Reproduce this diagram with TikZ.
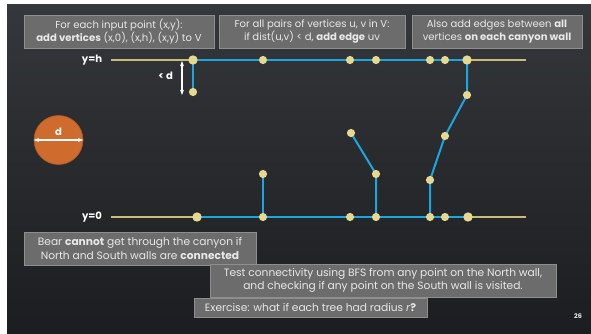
\documentclass[tikz,border=0pt]{standalone}
\usepackage{fontspec}
\setmainfont{Poppins}
\usepackage{tikz}
\usetikzlibrary{arrows.meta,positioning,calc}
\definecolor{bgtop}{HTML}{34373B}
\definecolor{bgbot}{HTML}{1C1D20}
\definecolor{bxfill}{HTML}{6C6C6C}
\definecolor{bxline}{HTML}{8E8E8E}
\definecolor{bxtext}{HTML}{E8E8E8}
\definecolor{wallc}{HTML}{C9BB7A}
\definecolor{edgec}{HTML}{1CA6E0}
\definecolor{vertc}{HTML}{E6D88E}
\definecolor{treec}{HTML}{CF6B2C}
\tikzset{
  txtbox/.style={draw=bxline,fill=bxfill,line width=0.8pt,text=bxtext,align=center,
                 font=\fontsize{8.6}{11.2}\selectfont,inner sep=0pt},
  bigtxt/.style={txtbox,font=\fontsize{9.1}{11.4}\selectfont},
  wall/.style={wallc,line width=1.3pt},
  edg/.style={edgec,line width=1.7pt},
  vtx/.style={circle,fill=vertc,inner sep=0pt,minimum size=7pt},
  bigvtx/.style={vtx,minimum size=8pt},
  wlbl/.style={text=white,font=\fontsize{8.6}{10}\selectfont\bfseries},
  darr/.style={{Stealth[length=1.6mm]}-{Stealth[length=1.6mm]},white,line width=1.3pt},
}

\begin{document}
\begin{tikzpicture}[x=0.03cm,y=-0.03cm]
\useasboundingbox (0,0) rectangle (591,333);
\shade[top color=bgtop,bottom color=bgbot] (7,4) rectangle (591,333);
% instruction boxes
\node[txtbox,minimum width=190*0.03cm,minimum height=33*0.03cm] (stepA) at (119,31.5)
  {For each input point (x,y):\\\textbf{add vertices} (x,0), (x,h), (x,y) to V};
\node[txtbox,minimum width=186*0.03cm,minimum height=33*0.03cm] (stepB) at (312,31.5)
  {For all pairs of vertices u, v in V:\\if dist(u,v) < d, \textbf{add edge} uv};
\node[txtbox,minimum width=170*0.03cm,minimum height=33*0.03cm] (stepC) at (497,31.5)
  {Also add edges between \textbf{all}\\vertices \textbf{on each canyon wall}};
% walls
\node[wlbl] (north) at (92,60) {y=h};
\node[wlbl] (south) at (92,217) {y=0};
\coordinate (nend) at (526,60);
\coordinate (send) at (526,217);
\draw[wall] (north.east)++(5,0) -- (nend);
\draw[wall] (south.east)++(5,0) -- (send);
% vertices
\foreach \n/\x/\y in {t1/193/60,t2/263/60,t3/350/60,t4/376/60,t5/430/60,t6/445/60,t7/467/60,
  b1/197/217,b2/263/217,b3/350/217,b4/376/217,b5/430/217,b6/445/217,b7/468/217,
  p1/193/92,p2/467/95,p3/445/136,p4/430/180,p5/263/174,p6/351/133,p7/376/174}
  \coordinate (\n) at (\x,\y);
% edges
\draw[edg] (t1) -- (t7);
\draw[edg] (b1) -- (b7);
\draw[edg] (t1) -- (p1);
\draw[edg] (t7) -- (p2) -- (p3) -- (p4) -- (b5);
\draw[edg] (b2) -- (p5);
\draw[edg] (p6) -- (p7) -- (b4);
\foreach \n in {t2,t3,t4,t5,t6,b2,b3,b4,b5,b6,p1,p2,p3,p4,p5,p6,p7}
  \node[vtx] at (\n) {};
\foreach \n in {t1,t7,b1,b7}
  \node[bigvtx] at (\n) {};
% gap smaller than d
\coordinate (gtop) at (182,61);
\coordinate (gbot) at (182,95);
\draw[darr] (gtop) -- (gbot);
\node[wlbl,anchor=east] (gap) at (177,76) {< d};
% tree of diameter d
\node[circle,fill=treec,draw=treec!85!black,line width=0.5pt,minimum size=49*0.03cm,inner sep=0pt] (tree) at (58.5,140) {};
\draw[darr] (tree.west) -- (tree.east);
\node[wlbl,above=0pt of tree.center] (dlbl) {d};
% conclusions
\node[bigtxt,minimum width=232*0.03cm,minimum height=33*0.03cm] (bear) at (140,248.5)
  {Bear \textbf{cannot} get through the canyon if\\North and South walls are \textbf{connected}};
\node[bigtxt,minimum width=346*0.03cm,minimum height=33*0.03cm] (bfs) at (383,280.5)
  {Test connectivity using BFS from any point on the North wall,\\and checking if any point on the South wall is visited.};
\node[bigtxt,minimum width=233*0.03cm,minimum height=19*0.03cm] (exer) at (310.5,307.5)
  {Exercise: what if each tree had radius \textit{r}\textbf{?}};
\node[text=bxtext,font=\fontsize{5.5}{6}\selectfont\bfseries] (pnum) at (578,316) {26};
\end{tikzpicture}
\end{document}
